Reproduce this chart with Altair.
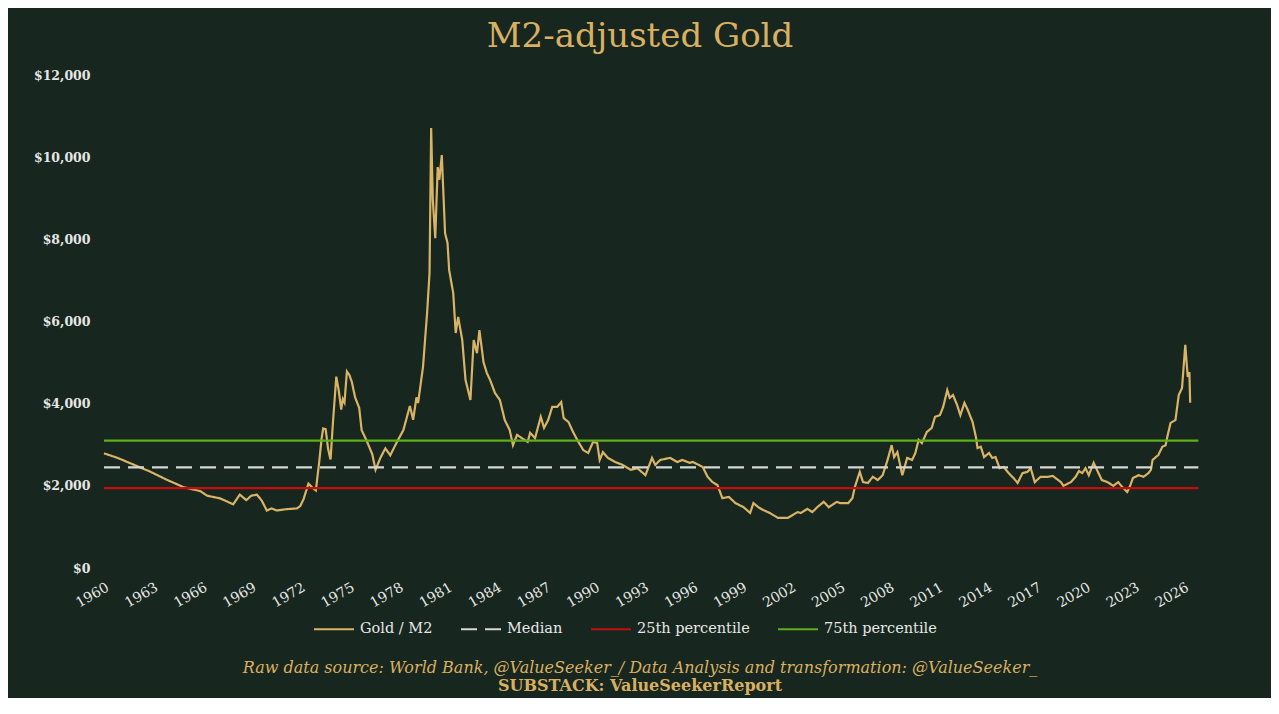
import altair as alt
import pandas as pd

# ---- data ----
years = [
    1960.0, 1960.8, 1961.8, 1962.8, 1963.8, 1964.85, 1965.9, 1966.3, 1967.1, 1967.9,
    1968.3, 1968.7, 1969.0, 1969.35, 1969.65, 1969.95, 1970.25, 1970.55, 1971.2, 1971.8,
    1972.0, 1972.2, 1972.5, 1972.7, 1972.95, 1973.15, 1973.3, 1973.4, 1973.55, 1973.7,
    1973.85, 1974.0, 1974.2, 1974.35, 1974.5, 1974.6, 1974.7, 1974.85, 1975.0, 1975.15,
    1975.35, 1975.6, 1975.75, 1976.05, 1976.4, 1976.6, 1976.9, 1977.2, 1977.5, 1977.9,
    1978.3, 1978.7, 1978.9, 1979.1, 1979.2, 1979.5, 1979.75, 1979.9, 1980.0, 1980.1,
    1980.25, 1980.4, 1980.5, 1980.65, 1980.85, 1981.0, 1981.1, 1981.35, 1981.5, 1981.65,
    1981.9, 1982.1, 1982.4, 1982.6, 1982.8, 1982.95, 1983.2, 1983.4, 1983.6, 1983.9,
    1984.2, 1984.5, 1984.8, 1985.0, 1985.25, 1985.55, 1985.9, 1986.05, 1986.35, 1986.7,
    1986.9, 1987.15, 1987.4, 1987.7, 1987.95, 1988.1, 1988.4, 1988.7, 1989.0, 1989.3,
    1989.6, 1989.9, 1990.15, 1990.3, 1990.5, 1990.8, 1991.25, 1991.7, 1992.2, 1992.6,
    1993.1, 1993.5, 1993.7, 1994.0, 1994.6, 1995.05, 1995.35, 1995.8, 1996.0, 1996.6,
    1996.9, 1997.2, 1997.5, 1997.8, 1998.2, 1998.6, 1999.1, 1999.5, 1999.7, 2000.0,
    2000.3, 2000.7, 2001.2, 2001.8, 2002.1, 2002.4, 2002.6, 2003.0, 2003.3, 2003.6,
    2004.0, 2004.3, 2004.8, 2005.0, 2005.5, 2005.75, 2005.9, 2006.2, 2006.4, 2006.7,
    2007.0, 2007.3, 2007.6, 2007.9, 2008.15, 2008.3, 2008.5, 2008.8, 2009.1, 2009.4,
    2009.6, 2009.8, 2010.0, 2010.3, 2010.6, 2010.8, 2011.1, 2011.3, 2011.55, 2011.7,
    2011.9, 2012.15, 2012.35, 2012.6, 2012.8, 2013.1, 2013.3, 2013.4, 2013.6, 2013.8,
    2014.1, 2014.3, 2014.5, 2014.75, 2015.0, 2015.3, 2015.6, 2015.85, 2016.15, 2016.45,
    2016.65, 2016.9, 2017.25, 2017.7, 2018.0, 2018.5, 2018.65, 2019.1, 2019.4, 2019.6,
    2019.8, 2020.0, 2020.2, 2020.5, 2020.7, 2021.0, 2021.35, 2021.7, 2022.0, 2022.25,
    2022.55, 2022.7, 2022.9, 2023.25, 2023.55, 2023.85, 2024.0, 2024.1, 2024.45, 2024.7,
    2024.9, 2025.0, 2025.2, 2025.5, 2025.7, 2025.9, 2026.1, 2026.25, 2026.35, 2026.4,
]
gold_m2 = [
    2790, 2685, 2517, 2350, 2155, 1970, 1870, 1760, 1694, 1550,
    1786, 1652, 1760, 1786, 1636, 1400, 1450, 1400, 1434, 1450,
    1510, 1677, 2055, 1970, 1887, 2560, 3145, 3397, 3380, 2894,
    2641, 3566, 4657, 4321, 3858, 4111, 4026, 4783, 4698, 4530,
    4153, 3900, 3355, 3104, 2768, 2390, 2685, 2911, 2744, 3062,
    3355, 3944, 3608, 4153, 4015, 4890, 6200, 7180, 10710, 8960,
    8030, 9760, 9450, 10050, 8150, 7910, 7250, 6690, 5720, 6110,
    5550, 4580, 4090, 5550, 5230, 5790, 5010, 4750, 4580, 4260,
    4090, 3600, 3360, 2990, 3240, 3160, 3070, 3290, 3160, 3680,
    3410, 3600, 3920, 3920, 4040, 3650, 3550, 3290, 3070, 2870,
    2800, 3070, 3040, 2630, 2820, 2680, 2580, 2510, 2390, 2430,
    2260, 2680, 2510, 2630, 2680, 2580, 2630, 2560, 2580, 2460,
    2220, 2090, 2020, 1700, 1730, 1580, 1480, 1340, 1580, 1480,
    1410, 1340, 1220, 1220, 1290, 1360, 1340, 1440, 1360, 1480,
    1610, 1480, 1610, 1580, 1580, 1700, 1970, 2340, 2090, 2070,
    2220, 2140, 2260, 2630, 2990, 2700, 2820, 2260, 2680, 2630,
    2800, 3120, 3040, 3310, 3410, 3680, 3720, 3920, 4330, 4140,
    4210, 3970, 3720, 4020, 3850, 3550, 3190, 2920, 2950, 2700,
    2800, 2680, 2700, 2430, 2460, 2310, 2190, 2070, 2310, 2340,
    2430, 2090, 2220, 2220, 2240, 2090, 2000, 2090, 2220, 2360,
    2310, 2430, 2260, 2560, 2390, 2140, 2090, 2000, 2090, 1970,
    1850, 1970, 2190, 2260, 2220, 2310, 2390, 2630, 2750, 2950,
    2990, 3190, 3530, 3600, 4210, 4380, 5430, 4650, 4770, 4020,
]

series_names = ["Gold / M2", "Median", "25th percentile", "75th percentile"]
series_colors = ["#d9b466", "#d6d6d6", "#c40d0d", "#5fae1a"]
series_dash = [[1, 0], [16, 8], [1, 0], [1, 0]]
ref_levels = {"Median": 2450, "25th percentile": 1945, "75th percentile": 3100}
ref_span = [1960.0, 2026.9]

x_ticks = list(range(1960, 2027, 3))
y_ticks = [0, 2000, 4000, 6000, 8000, 10000, 12000]

title_text = "M2-adjusted Gold"
footer_1 = "Raw data source: World Bank, @ValueSeeker_/ Data Analysis and transformation: @ValueSeeker_"
footer_2 = "SUBSTACK: ValueSeekerReport"

# ---- build tables ----
rows = [{"year": y, "value": v, "series": "Gold / M2", "order": i}
        for i, (y, v) in enumerate(zip(years, gold_m2))]
for name, lvl in ref_levels.items():
    for j, yr in enumerate(ref_span):
        rows.append({"year": yr, "value": lvl, "series": name, "order": j})
df = pd.DataFrame(rows)

BG = "#17261e"
GOLD = "#d9b062"
TXT = "#e6e6e6"
W, H = 1096, 493

legend_cfg = dict(
    title=None, orient="none", direction="horizontal",
    legendX=209, legendY=533,
    symbolType="stroke", symbolSize=1600, symbolStrokeWidth=2,
    labelFont="DejaVu Serif", labelFontSize=14.5, labelColor=TXT,
    columnPadding=24, labelOffset=5,
)

color = alt.Color(
    "series:N",
    scale=alt.Scale(domain=series_names, range=series_colors),
    legend=alt.Legend(**legend_cfg),
    sort=series_names,
)
dash = alt.StrokeDash(
    "series:N",
    scale=alt.Scale(domain=series_names, range=series_dash),
    legend=alt.Legend(**legend_cfg),
    sort=series_names,
)

lines = alt.Chart(df).mark_line(strokeWidth=2.2, interpolate="linear").encode(
    x=alt.X(
        "year:Q",
        scale=alt.Scale(domain=[1960, 2027], nice=False, zero=False),
        axis=alt.Axis(
            title=None, values=x_ticks, format="d", labelAngle=-30,
            labelAlign="right", labelBaseline="top", labelPadding=12,
            ticks=False, domain=False, grid=False,
            labelFont="DejaVu Serif", labelFontSize=14, labelColor=TXT,
            labelOverlap=False, labelFlush=False,
        ),
    ),
    y=alt.Y(
        "value:Q",
        scale=alt.Scale(domain=[0, 12000], nice=False),
        axis=alt.Axis(
            title=None, values=y_ticks, format="$,d",
            ticks=False, domain=False, grid=False, labelPadding=14,
            labelFont="DejaVu Serif", labelFontSize=12.5, labelFontWeight="bold",
            labelColor=TXT,
        ),
    ),
    color=color,
    strokeDash=dash,
    order="order:Q",
    detail="series:N",
)

foot1 = alt.Chart(pd.DataFrame({"t": [footer_1]})).mark_text(
    font="DejaVu Serif", fontSize=16, fontStyle="italic", color=GOLD,
    align="center", baseline="alphabetic",
).encode(text="t:N", x=alt.value(W / 2 - 12), y=alt.value(598))

foot2 = alt.Chart(pd.DataFrame({"t": [footer_2]})).mark_text(
    font="DejaVu Serif", fontSize=16, fontWeight="bold", color=GOLD,
    align="center", baseline="alphabetic",
).encode(text="t:N", x=alt.value(W / 2 - 12), y=alt.value(616))

chart = alt.layer(lines, foot1, foot2).properties(
    width=W, height=H,
    background=BG,
    padding={"left": 96, "top": 67, "right": 71, "bottom": 130},
    autosize=alt.AutoSizeParams(type="none"),
    title=alt.TitleParams(
        title_text, font="DejaVu Serif", fontSize=34, fontWeight="normal",
        color=GOLD, anchor="middle", dx=-12, offset=15,
    ),
).configure_view(stroke="transparent", strokeWidth=0)

chart.save("out.html", embed_options={"renderer": "svg", "actions": False})
